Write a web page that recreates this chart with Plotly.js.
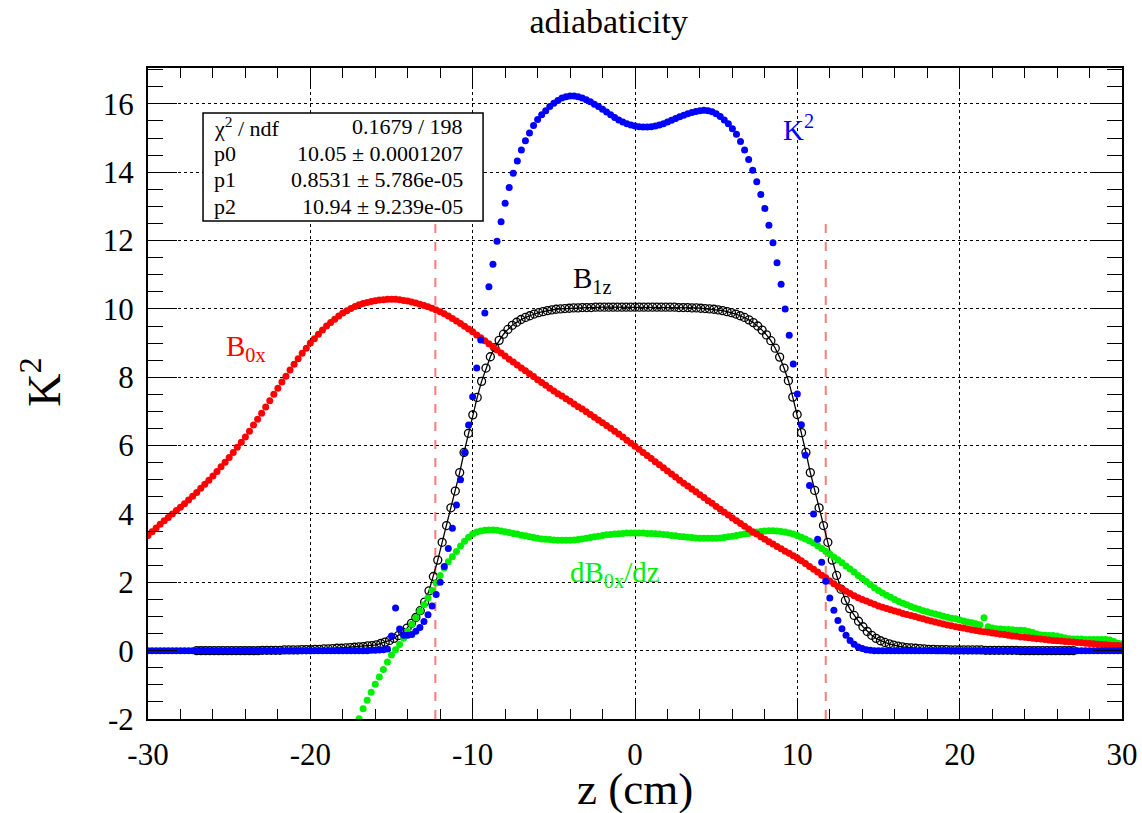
<!DOCTYPE html>
<html><head><meta charset="utf-8">
<script src="https://cdn.plot.ly/plotly-3.0.1.min.js"></script>
<style>html,body{margin:0;padding:0;background:#fff}#chart{width:1142px;height:813px}</style>
</head><body><div id="chart"></div>
<script>
const FONT = '"Liberation Serif", serif';

// sampling of the dotted series (z in cm)
const zStart = -30, zStep = 0.25;
const greenStart = -17;
const fitStart = -27, fitStep = 0.27;

// K^2 (blue)
const K2 = [
0,0,0,0, 0,0,0,0, 0,0,0,0, 0,0,0,0, 0,0,0,0, 0,0,0,0, 0,0,0,0,
0,0,0,0, 0,0,0,0, 0,0,0,0, 0,0,0,0, 0,0,0,0, 0,0,0,0, 0,0,0,0.01,
0.01,0.02,0.03,0.05,
0.43,1.25,0.63,0.45,
0.45,0.47,0.57,0.68,
0.85,1.05,1.31,1.64,
2.0,2.46,2.99,3.58,
4.26,5.0,5.8,6.6,
7.43,8.27,9.09,9.88,
10.65,11.31,11.98,12.55,
13.09,13.55,13.97,14.33,
14.65,14.92,15.15,15.37,
15.54,15.68,15.8,15.92,
16.02,16.1,16.17,16.21,
16.23,16.23,16.21,16.17,
16.12,16.06,15.99,15.92,
15.84,15.76,15.68,15.6,
15.53,15.47,15.42,15.38,
15.35,15.33,15.32,15.32,
15.33,15.35,15.38,15.42,
15.47,15.52,15.57,15.62,
15.67,15.71,15.75,15.78,
15.8,15.81,15.8,15.77,
15.71,15.63,15.53,15.42,
15.27,15.11,14.9,14.65,
14.37,14.06,13.72,13.35,
12.94,12.45,11.94,11.35,
10.72,10.0,9.23,8.39,
7.51,6.61,5.72,4.83,
4.0,3.26,2.59,2.03,
1.54,1.18,0.88,0.64,
0.45,0.3,0.19,0.11,
0.06,0.03,0.01,0,
0,0,0,0, 0,0,0,0, 0,0,0,0, 0,0,0,0, 0,0,0,0,
0,0,0,0, 0,0,0,0, 0,0,0,0, 0,0,0,0, 0,0,0,0,
0,0,0,0, 0,0,0,0, 0,0,0,0, 0,0,0,0, 0,0,0,0,
0];

// B0x (red)
const B0x = [
3.37,3.48,3.59,3.7,
3.8,3.9,4.0,4.1,
4.2,4.3,4.41,4.52,
4.63,4.75,4.87,4.99,
5.11,5.24,5.38,5.51,
5.65,5.8,5.95,6.1,
6.25,6.42,6.6,6.77,
6.95,7.13,7.31,7.5,
7.68,7.86,8.03,8.21,
8.38,8.54,8.7,8.85,
9.0,9.13,9.26,9.38,
9.5,9.6,9.7,9.79,
9.88,9.95,10.01,10.07,
10.12,10.16,10.19,10.22,
10.24,10.26,10.27,10.28,
10.28,10.28,10.27,10.25,
10.23,10.2,10.17,10.14,
10.1,10.06,10.02,9.97,
9.92,9.86,9.79,9.72,
9.65,9.57,9.49,9.41,
9.33,9.24,9.16,9.07,
8.98,8.89,8.8,8.71,
8.62,8.53,8.45,8.36,
8.27,8.19,8.1,8.02,
7.93,7.85,7.77,7.68,
7.6,7.52,7.45,7.37,
7.3,7.22,7.14,7.07,
6.99,6.91,6.83,6.75,
6.67,6.59,6.51,6.42,
6.34,6.25,6.16,6.07,
5.98,5.89,5.8,5.71,
5.62,5.53,5.44,5.35,
5.26,5.17,5.08,4.99,
4.9,4.82,4.73,4.65,
4.56,4.48,4.39,4.31,
4.22,4.14,4.05,3.97,
3.88,3.8,3.72,3.64,
3.56,3.48,3.41,3.33,
3.26,3.19,3.12,3.05,
2.98,2.91,2.85,2.78,
2.71,2.63,2.55,2.46,
2.38,2.3,2.21,2.13,
2.04,1.96,1.88,1.81,
1.74,1.67,1.61,1.55,
1.5,1.45,1.4,1.36,
1.31,1.27,1.23,1.2,
1.16,1.13,1.09,1.06,
1.03,1.0,0.96,0.93,
0.9,0.87,0.84,0.81,
0.78,0.75,0.73,0.7,
0.68,0.66,0.63,0.61,
0.59,0.57,0.55,0.54,
0.52,0.5,0.48,0.47,
0.45,0.43,0.42,0.4,
0.39,0.38,0.36,0.35,
0.34,0.33,0.31,0.3,
0.29,0.28,0.27,0.26,
0.25,0.24,0.23,0.22,
0.21,0.2,0.19,0.18,
0.17,0.16,0.15,0.15,
0.14];

// dB0x/dz (green), starts at z = -17
const dB0xdz = [
-1.99,-1.7,-1.45,-1.22,
-0.98,-0.77,-0.55,-0.33,
-0.13,0.03,0.18,0.36,
0.56,0.77,0.96,1.15,
1.34,1.54,1.76,1.98,
2.2,2.42,2.6,2.75,
2.9,3.06,3.2,3.32,
3.41,3.47,3.5,3.52,
3.53,3.53,3.52,3.5,
3.48,3.46,3.43,3.41,
3.38,3.36,3.33,3.31,
3.29,3.27,3.26,3.25,
3.24,3.23,3.23,3.23,
3.23,3.24,3.25,3.27,
3.29,3.31,3.33,3.35,
3.37,3.39,3.4,3.41,
3.42,3.43,3.44,3.44,
3.44,3.44,3.44,3.43,
3.43,3.42,3.41,3.4,
3.39,3.37,3.36,3.34,
3.33,3.32,3.31,3.3,
3.29,3.29,3.29,3.29,
3.29,3.3,3.31,3.33,
3.35,3.37,3.39,3.41,
3.43,3.45,3.47,3.49,
3.5,3.51,3.51,3.5,
3.49,3.47,3.44,3.41,
3.37,3.32,3.27,3.21,
3.15,3.07,2.99,2.91,
2.83,2.74,2.66,2.57,
2.48,2.39,2.3,2.2,
2.11,2.02,1.93,1.84,
1.76,1.69,1.62,1.56,
1.5,1.44,1.39,1.34,
1.29,1.25,1.21,1.17,
1.14,1.1,1.07,1.04,
1.01,0.98,0.95,0.93,
0.9,0.87,0.84,0.82,
0.79,0.76,0.96,0.7,
0.66,0.64,0.63,0.62,
0.62,0.61,0.6,0.6,
0.59,0.56,0.53,0.49,
0.46,0.45,0.44,0.44,
0.43,0.4,0.37,0.35,
0.34,0.34,0.34,0.33,
0.33,0.33,0.33,0.33,
0.33,0.31,0.27,0.22,
0.2];

// B1z (black open circles + fit), 201 points from z = -27 to 27
const B1z = [
0,0,0,0,0,0,0,0,0,0,
0,0,0,0,0,0.01,0.01,0.01,0.01,0.01,
0.02,0.02,0.02,0.02,0.03,0.03,0.03,0.04,0.04,0.05,
0.05,0.06,0.07,0.07,0.08,0.09,0.1,0.11,0.12,0.14,
0.15,0.17,0.21,0.25,0.3,0.36,0.44,0.54,0.66,0.8,
0.97,1.17,1.42,1.75,2.17,2.65,3.17,3.66,4.18,4.67,
5.21,5.8,6.36,6.9,7.41,7.88,8.27,8.6,8.87,9.08,
9.26,9.4,9.52,9.61,9.69,9.75,9.8,9.85,9.89,9.92,
9.95,9.97,9.99,10.0,10.01,10.02,10.03,10.03,10.04,10.04,
10.04,10.05,10.05,10.05,10.05,10.05,10.05,10.05,10.05,10.05,
10.05,
10.05,10.05,10.05,10.05,10.05,10.05,10.05,10.05,10.05,10.04,
10.04,10.04,10.03,10.03,10.02,10.01,10.0,9.99,9.97,9.95,
9.92,9.89,9.85,9.8,9.75,9.68,9.6,9.5,9.38,9.24,
9.07,8.85,8.59,8.27,7.9,7.42,6.91,6.38,5.8,5.21,
4.69,4.18,3.66,3.17,2.65,2.2,1.8,1.47,1.23,1.03,
0.86,0.7,0.56,0.45,0.36,0.29,0.24,0.2,0.16,0.13,
0.11,0.09,0.08,0.07,0.06,0.05,0.04,0.04,0.03,0.03,
0.03,0.02,0.02,0.02,0.02,0.02,0.02,0.02,0.02,0.01,
0.01,0.01,0.01,0.01,0.01,0.01,0.01,0,0,0,
0,0,0,0,0,0,0,0,0,0];

// dashed cut lines
const cutZ = [-12.3, 11.75];
const cutTop = [12.5, 12.65];
const cutBottom = -2;

// ticks
const xTickVals = [-30,-20,-10,0,10,20,30];
const xTickText = ['-30','-20','-10','0','10','20','30'];
const yTickVals = [-2,0,2,4,6,8,10,12,14,16];
const yTickText = ['-2','0','2','4','6','8','10','12','14','16'];

// stats box text
const statsLabels = ['\u03c7<sup>2</sup> / ndf','p0','p1','p2'];
const statsValues = ['0.1679 / 198','10.05 \u00b1 0.0001207','0.8531 \u00b1 5.786e-05','10.94 \u00b1 9.239e-05'];

// curve labels
const curveLabels = [
  {text:'K<sup>2</sup>', color:'#0000ff', x:9.0, y:15.3},
  {text:'B<sub>1z</sub>', color:'#000000', x:-3.95, y:10.85},
  {text:'B<sub>0x</sub>', color:'#ff0000', x:-25.3, y:8.87},
  {text:'dB<sub>0x</sub>/dz', color:'#00ee00', x:-4.1, y:2.24}
];

const traces = [];
cutZ.forEach((z,i)=>{
  traces.push({type:'scatter', mode:'lines', x:[z,z], y:[cutBottom,cutTop[i]],
    line:{color:'rgba(255,90,90,0.8)', width:2, dash:'dash'}, hoverinfo:'skip', showlegend:false});
});
traces.push({type:'scatter', mode:'lines+markers', x0:fitStart, dx:fitStep, y:B1z,
  line:{color:'black', width:1.3},
  marker:{symbol:'circle-open', size:8, color:'black', line:{width:1.3, color:'black'}}, showlegend:false});
traces.push({type:'scatter', mode:'markers', x0:greenStart, dx:zStep, y:dB0xdz,
  marker:{size:7, color:'#00ee00'}, showlegend:false});
traces.push({type:'scatter', mode:'markers', x0:zStart, dx:zStep, y:B0x,
  marker:{size:7, color:'#ff0000'}, showlegend:false});
traces.push({type:'scatter', mode:'markers', x0:zStart, dx:zStep, y:K2,
  marker:{size:7, color:'#0000ff'}, showlegend:false});

const annotations = [];
const rowY = [0.9094, 0.8694, 0.828, 0.7865];
statsLabels.forEach((t,i)=>{
  annotations.push({xref:'paper', yref:'paper', x:0.066, y:rowY[i], xanchor:'left', yanchor:'middle',
    text:t, showarrow:false, font:{family:FONT, size:22, color:'black'}});
  annotations.push({xref:'paper', yref:'paper', x:0.325, y:rowY[i], xanchor:'right', yanchor:'middle',
    text:statsValues[i], showarrow:false, font:{family:FONT, size:22, color:'black'}});
});
curveLabels.forEach(c=>{
  annotations.push({xref:'x', yref:'y', x:c.x, y:c.y, xanchor:'left', yanchor:'middle',
    text:c.text, showarrow:false, font:{family:FONT, size:29, color:c.color}});
});
annotations.push({xref:'paper', yref:'paper', x:-0.11, y:0.518, xanchor:'center', yanchor:'middle',
  text:'K<sup>2</sup>', textangle:-90, showarrow:false, font:{family:FONT, size:46, color:'black'}});
annotations.push({xref:'paper', yref:'paper', x:0.5, y:-0.107, xanchor:'center', yanchor:'middle',
  text:'z (cm)', showarrow:false, font:{family:FONT, size:45, color:'black'}});

const axisCommon = {
  showline:true, linecolor:'black', linewidth:2, mirror:'allticks',
  ticks:'inside', tickcolor:'black', tickwidth:1,
  showgrid:true, gridcolor:'black', gridwidth:1, griddash:'dot',
  zeroline:false, tickmode:'array',
  tickfont:{family:FONT, size:31, color:'black'}
};

const layout = {
  width:1142, height:813,
  margin:{l:148, r:20, t:68, b:94},
  paper_bgcolor:'white', plot_bgcolor:'white',
  showlegend:false,
  font:{family:FONT, color:'black'},
  title:{text:'adiabaticity', x:0.533, xanchor:'center', y:0.974, yanchor:'middle',
    font:{family:FONT, size:34, color:'black'}},
  xaxis:Object.assign({}, axisCommon, {
    range:[-30,30], tickvals:xTickVals, ticktext:xTickText, ticklen:20, ticklabelstandoff:7,
    minor:{tickmode:'linear', tick0:-30, dtick:2, ticks:'inside', ticklen:10, tickcolor:'black', tickwidth:1, showgrid:false}
  }),
  yaxis:Object.assign({}, axisCommon, {
    range:[-2,17.05], tickvals:yTickVals, ticktext:yTickText, ticklen:29, ticklabelstandoff:6,
    minor:{tickmode:'linear', tick0:0, dtick:0.5, ticks:'inside', ticklen:15, tickcolor:'black', tickwidth:1, showgrid:false}
  }),
  shapes:[{type:'rect', xref:'paper', yref:'paper', x0:0.0565, x1:0.344, y0:0.765, y1:0.931,
    line:{color:'black', width:1.5}, fillcolor:'white', layer:'above'}],
  annotations:annotations
};

Plotly.newPlot('chart', traces, layout, {displayModeBar:false, staticPlot:true});
</script></body></html>
